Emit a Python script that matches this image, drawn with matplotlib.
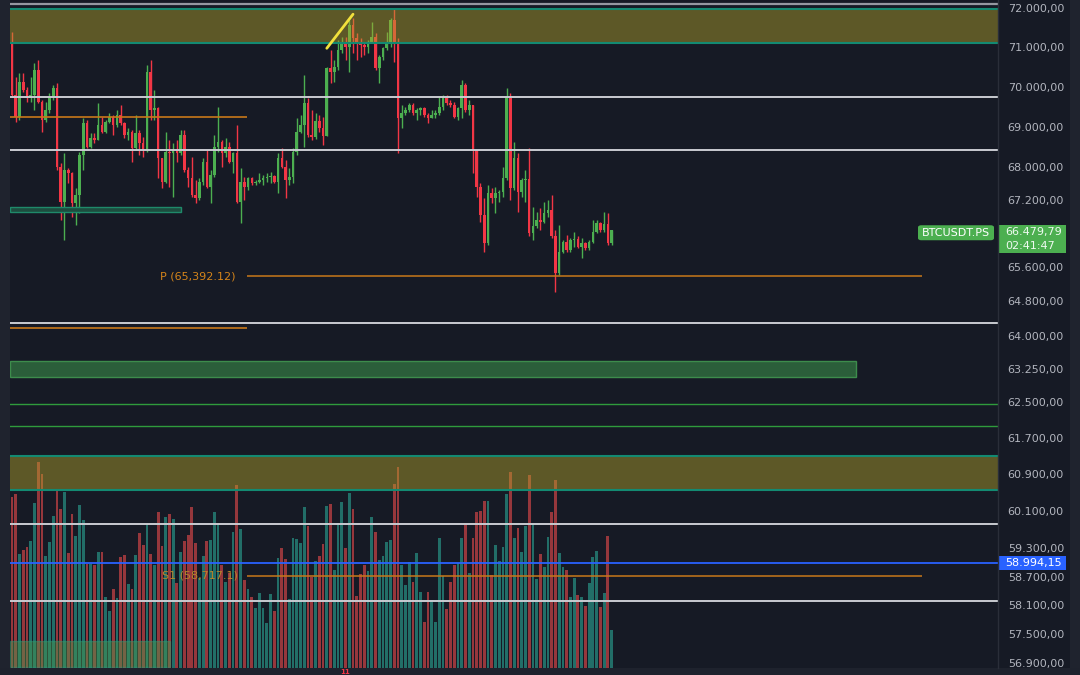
import numpy as np
import matplotlib
matplotlib.use('Agg')
import matplotlib.pyplot as plt
from matplotlib.patches import Rectangle, FancyBboxPatch
from matplotlib.ticker import FixedLocator, NullLocator, FuncFormatter

BG = '#161a25'
UP = '#4caf50'
DOWN = '#f23645'
VOL_UP = '#226e68'
VOL_DOWN = '#96373c'

# ---- data ----
symbol = 'BTCUSDT.PS'
countdown = '02:41:47'
first_open = 71108

closes = [
    69792, 69250, 70127, 69917, 69710, 69792, 70423, 69625, 69167, 69417,
    69750, 69960, 68017, 67167, 67937, 67857, 67128, 67329, 68304, 69085,
    68508, 68715, 68673, 69042, 68877, 69125, 69250, 69042, 69292, 69085,
    68796, 68877, 68469, 68838, 68592, 68427, 70380, 69417, 69460, 68223,
    67653, 68385, 68346, 68427, 68346, 68796, 67937, 67735, 67329, 67249,
    67653, 68139, 67531, 67815, 68508, 68631, 68346, 68508, 68139, 68346,
    67167, 67653, 67531, 67735, 67614, 67653, 67694, 67735, 67774, 67791,
    67653, 68223, 68017, 67694, 67774, 68385, 68877, 69042, 69585, 68796,
    68734, 69142, 68968, 68771, 70474, 70380, 70507, 70929, 71100, 71013,
    71571, 71229, 71100, 71057, 71013, 71142, 71270, 70466, 70760, 70972,
    71100, 71699, 71100, 69210, 69335, 69417, 69542, 69335, 69417, 69460,
    69292, 69210, 69292, 69350, 69500, 69710, 69585, 69542, 69250, 69460,
    70044, 69417, 69542, 68427, 67531, 66849, 66171, 67371, 67249, 67371,
    67410, 67735, 69710, 67492, 68223, 67410, 67694, 67711, 66411, 66570,
    66729, 66689, 66889, 66968, 66331, 65462, 65972, 66211, 66012, 66251,
    66267, 66092, 66187, 66053, 66211, 66449, 66650, 66490, 66635, 66171,
    66479.79]

highs = [
    71399, 70254, 70340, 70340, 70000, 70254, 70593, 70676, 69667, 69625,
    69835, 70044, 70087, 68100, 68346, 67978, 67896, 67492, 68385, 69210,
    69167, 68838, 68838, 69585, 69250, 69167, 69335, 69292, 69417, 69542,
    69125, 68961, 68919, 69292, 68919, 68754, 70550, 70676, 69917, 69500,
    68100, 68877, 68673, 68592, 68673, 68919, 68919, 68017, 68262, 67694,
    67735, 68223, 68427, 67937, 68796, 69500, 68673, 68715, 68631, 68385,
    69042, 67978, 67774, 67774, 67774, 67694, 67857, 67815, 67857, 67896,
    67815, 68346, 68469, 68181, 67978, 68469, 69210, 69292, 70297, 69710,
    69417, 69350, 69292, 69242, 70507, 70929, 70676, 71185, 71270, 71270,
    71699, 71743, 71357, 71229, 71100, 71185, 71656, 71357, 70803, 71013,
    71399, 71743, 72000, 71229, 69542, 69500, 69585, 69585, 69460, 69500,
    69500, 69350, 69417, 69417, 69750, 69792, 69792, 69667, 69625, 69500,
    70170, 70087, 69667, 69542, 68427, 67614, 67249, 67572, 67492, 67531,
    67451, 68017, 69960, 69835, 68631, 68346, 67735, 67937, 68469, 67047,
    66928, 67009, 67167, 67207, 67329, 66490, 66610, 66251, 66371, 66291,
    66449, 66331, 66291, 66211, 66251, 66729, 66729, 66689, 66928, 66889,
    66495]

lows = [
    69742, 69125, 69167, 69875, 69625, 69625, 69417, 69585, 68877, 69125,
    69335, 69667, 67937, 66729, 66251, 67614, 66808, 66610, 66889, 67937,
    68469, 68469, 68592, 68673, 68838, 68838, 69085, 68796, 69000, 69042,
    68715, 68673, 68139, 68427, 68304, 68262, 68385, 69167, 69167, 67735,
    67492, 67614, 67531, 67288, 68139, 68304, 67896, 67531, 67288, 67128,
    67207, 67572, 67492, 67128, 67774, 68385, 68017, 68262, 68100, 67857,
    67128, 66650, 67207, 67451, 67572, 67572, 67614, 67572, 67653, 67614,
    67614, 67371, 67978, 67249, 67572, 67614, 68304, 68838, 68508, 68754,
    68673, 68697, 68870, 68550, 68838, 70087, 70127, 70423, 70846, 70676,
    70380, 70846, 70676, 70760, 70803, 70846, 71100, 70423, 70087, 70676,
    70929, 71013, 70633, 68346, 68961, 69292, 69375, 69292, 69167, 69292,
    69250, 69100, 69210, 69210, 69292, 69417, 69542, 69500, 69210, 69167,
    69210, 69375, 69292, 67857, 67288, 66689, 65972, 66131, 67128, 66889,
    67167, 67288, 67694, 67207, 67451, 66928, 67288, 67167, 66331, 66251,
    66530, 66490, 66650, 66808, 66291, 65028, 65422, 65934, 65972, 65972,
    66092, 66053, 65816, 66012, 66012, 66171, 66411, 66449, 66449, 66131,
    66131]

volumes = [
    1713, 1737, 1137, 1180, 1213, 1270, 1647, 2063, 1940, 1120,
    1257, 1520, 1773, 1587, 1763, 1147, 1540, 1323, 1630, 1480,
    1037, 1037, 1030, 1163, 1163, 713, 570, 790, 697, 1107,
    1127, 837, 790, 1127, 1350, 1230, 1437, 1137, 1030, 1560,
    1220, 1510, 1540, 1490, 847, 1157, 1270, 1330, 1613, 1247,
    897, 1120, 1270, 1280, 1560, 1440, 1030, 863, 953, 1360,
    1830, 1390, 880, 790, 713, 603, 747, 597, 447, 737,
    567, 1103, 1203, 1093, 687, 1297, 1287, 1247, 1613, 1423,
    913, 1070, 1120, 1237, 1620, 1640, 980, 1453, 1657, 1203,
    1747, 1593, 723, 940, 1030, 970, 1507, 1360, 1080, 1120,
    1257, 1280, 1837, 2007, 1030, 830, 1057, 863, 1147, 763,
    463, 763, 680, 463, 1297, 920, 593, 857, 1030, 1047,
    1297, 1440, 947, 1297, 1560, 1570, 1670, 1670, 927, 1227,
    1070, 1213, 1743, 1957, 1303, 1397, 1163, 1423, 1930, 1440,
    893, 1137, 1007, 1307, 1560, 1880, 1147, 1007, 980, 707,
    903, 727, 713, 623, 847, 1107, 1173, 613, 747, 1323,
    377]

price_ticks = [72000, 71000, 70000, 69000, 68000, 67200, 65600, 64800, 64000,
               63250, 62500, 61700, 60900, 60100, 59300, 58700, 58100, 57500, 56900]

pivot_p = 65392.12
pivot_s1 = 58717.1
blue_level = 58994.15
white_levels = [69750, 68427, 64302, 59829, 58183]
orange_short = [69235, 64187]
green_levels = [62457, 61966]
zone_top = (71116, 71990)
zone_mid = (60551, 61308)
trend_x = [84, 91]
trend_y = [70972, 71846]
day_label = '11'

# ---- figure ----
W, H = 1080, 675
fig = plt.figure(figsize=(W / 100, H / 100), dpi=100)
fig.patch.set_facecolor(BG)

rect = [10 / W, 7 / H, 988 / W, 668 / H]
axv = fig.add_axes(rect)
ax = fig.add_axes(rect, sharex=axv)
axv.set_facecolor(BG)
ax.set_facecolor('none')

closes = np.array(closes, dtype=float)
opens = np.concatenate([[first_open], closes[:-1]])
highs = np.maximum.reduce([np.array(highs, float), opens, closes])
lows = np.minimum.reduce([np.array(lows, float), opens, closes])
idx = np.arange(len(closes))
up = closes >= opens

# volume
axv.bar(idx, volumes, width=0.74, color=np.where(up, VOL_UP, VOL_DOWN), zorder=1)
axv.set_ylim(0, 6680)
axv.axis('off')

# price axis
ax.set_yscale('log')
ax.set_ylim(56804, 72214)
ax.set_xlim(-0.53, 263.1)
x0, x1 = ax.get_xlim()

ccol = np.where(up, UP, DOWN)
ax.vlines(idx, lows, highs, colors=ccol, lw=1, zorder=3)
ax.bar(idx, np.maximum(np.abs(closes - opens), 10), bottom=np.minimum(opens, closes),
       width=0.7, color=ccol, zorder=4)

# levels
ax.axhline(72110, color='#9598a1', lw=1.6, zorder=2)
for lv in white_levels:
    ax.axhline(lv, color='#c9cbd1', lw=1.4, zorder=6)
for lv in green_levels:
    ax.axhline(lv, color='#2f9b3c', lw=1, zorder=6)
ax.axhline(blue_level, color='#2962ff', lw=1.3, zorder=6)
for lv in orange_short:
    ax.hlines(lv, x0, 62.7, color='#c8781a', lw=1.2, zorder=6)
ax.hlines([pivot_p, pivot_s1], 62.7, 242.8, color='#c8781a', lw=1.1, zorder=6)

for lo, hi in (zone_top, zone_mid):
    ax.axhspan(lo, hi, color='#b5a52a', alpha=0.45, lw=0, zorder=5)
    ax.axhline(lo, color='#138a72', lw=1.5, zorder=6)
    ax.axhline(hi, color='#138a72', lw=1.5, zorder=6)

ax.add_patch(Rectangle((x0, 66920), 45.1 - x0, 67047 - 66920, facecolor='#1d4d3f',
                       edgecolor='#1f8a6a', lw=1, zorder=5))
ax.add_patch(Rectangle((x0, 63066), 225.2 - x0, 63430 - 63066, facecolor='#2b5e3a',
                       edgecolor='#3d8c4c', lw=1, zorder=5))
ax.add_patch(Rectangle((x0, 56830), 42.2 - x0, 57358 - 56830, facecolor='#4c9a50',
                       alpha=0.45, edgecolor='#2e9e78', lw=1, zorder=5))

ax.plot(trend_x, trend_y, color='#f2e13c', lw=2, zorder=7, solid_capstyle='round')

ax.text(39.5, pivot_p, f'P ({pivot_p:,.2f})', color='#d4841a', fontsize=8,
        va='center', ha='left', zorder=8)
ax.text(40.0, pivot_s1, f'S1 ({pivot_s1:,.1f})', color='#b8862a', fontsize=8,
        va='center', ha='left', zorder=8)

# right price scale
def eu(v, pos=None):
    s = f'{v:,.2f}'
    return s.replace(',', 'X').replace('.', ',').replace('X', '.')

ax.yaxis.tick_right()
ax.yaxis.set_major_locator(FixedLocator(price_ticks))
ax.yaxis.set_minor_locator(NullLocator())
ax.yaxis.set_major_formatter(FuncFormatter(eu))
ax.yaxis.set_minor_formatter(FuncFormatter(lambda v, p: ''))
ax.tick_params(axis='y', length=0, pad=7, labelsize=8, labelcolor='#b2b5be')
ax.tick_params(axis='x', bottom=False, labelbottom=False)
for a in (ax, axv):
    for s in a.spines.values():
        s.set_visible(False)

# frame strips
fig.add_artist(Rectangle((0, 0), 10 / W, 1, transform=fig.transFigure,
                         facecolor='#1f232e', lw=0))
fig.add_artist(Rectangle((1070 / W, 0), 10 / W, 1, transform=fig.transFigure,
                         facecolor='#1f232e', lw=0))
fig.add_artist(Rectangle((0, 0), 1, 7 / H, transform=fig.transFigure,
                         facecolor='#1e222d', lw=0))
fig.add_artist(plt.Line2D([998 / W, 998 / W], [7 / H, 1], transform=fig.transFigure,
                          color='#2a2e39', lw=1))
fig.text(345 / W, 1 - 671.5 / H, day_label, color=DOWN, fontsize=5, fontweight='bold',
         ha='center', va='center')

# price tags
fig.canvas.draw()


def ypix(price):
    return H - ax.transData.transform((0, price))[1]


yl = ypix(closes[-1])
fig.add_artist(FancyBboxPatch((918 / W, 1 - (yl + 10) / H), 76 / W, 15 / H,
                              boxstyle='round,pad=0,rounding_size=0.003',
                              transform=fig.transFigure, facecolor=UP, lw=0))
fig.text(956 / W, 1 - (yl + 2.5) / H, symbol, color='white', fontsize=8,
         ha='center', va='center')
fig.add_artist(Rectangle((998 / W, 1 - (yl + 23) / H), 68 / W, 28 / H,
                         transform=fig.transFigure, facecolor=UP, lw=0))
fig.text(1005 / W, 1 - (yl + 2) / H, eu(closes[-1]), color='#eefaf0', fontsize=8,
         ha='left', va='center')
fig.text(1005 / W, 1 - (yl + 16) / H, countdown, color='#eefaf0', fontsize=8,
         ha='left', va='center')

yb = ypix(blue_level)
fig.add_artist(Rectangle((998 / W, 1 - (yb + 7) / H), 68 / W, 14 / H,
                         transform=fig.transFigure, facecolor='#2962ff', lw=0))
fig.text(1005 / W, 1 - yb / H, eu(blue_level), color='white', fontsize=8,
         ha='left', va='center')

fig.savefig('out.png', dpi=100, facecolor=BG)
